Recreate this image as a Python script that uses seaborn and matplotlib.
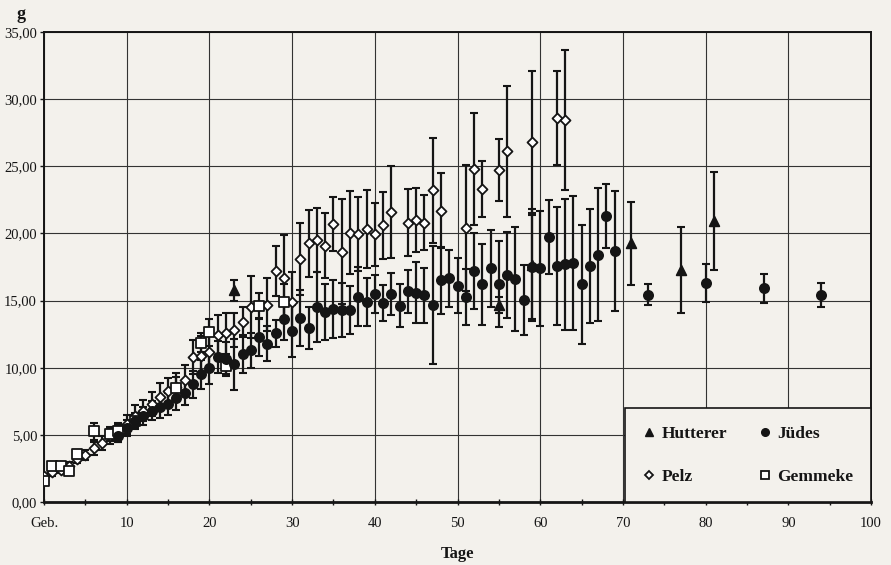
import numpy as np
import pandas as pd
import matplotlib
matplotlib.use("Agg")
import matplotlib.pyplot as plt
from matplotlib.lines import Line2D
from matplotlib.ticker import FixedLocator, FuncFormatter, MultipleLocator
import seaborn as sns

# ---------------- data ----------------
pelz_days = [0,1,2,3,4,5,6,7,8,9,10,11,12,13,14,15,16,17,18,19,20,21,22,23,24,25,
             27,28,29,30,31,32,33,34,35,36,37,38,39,40,41,42,44,45,46,47,48,
             51,52,53,55,56,59,62,63]
pelz_mean = [1.9,2.2,2.4,2.7,3.2,3.5,4.0,4.4,4.9,5.1,
             5.8,6.4,6.8,7.3,7.85,8.25,8.6,9.1,10.8,10.85,
             11.15,12.4,12.55,12.8,13.4,14.5,
             14.7,17.2,16.7,14.9,18.1,19.25,19.5,19.1,20.7,18.65,20.05,19.95,20.3,19.95,20.6,21.6,
             20.8,21.0,20.8,23.2,21.7,
             20.4,24.8,23.3,24.7,26.1,26.8,28.6,28.45]
pelz_sd = [0.2,0.25,0.25,0.3,0.3,0.4,0.5,0.5,0.6,0.6,
           0.7,0.8,0.8,0.9,1.0,1.0,1.0,1.1,1.3,1.5,
           1.3,1.5,1.5,1.25,1.1,2.3,
           2.0,1.85,3.2,2.2,2.7,2.5,2.4,2.4,2.0,3.9,3.1,2.75,2.9,2.35,2.5,3.4,
           2.5,2.4,2.05,3.9,2.8,
           4.7,4.15,2.1,2.3,4.9,5.3,3.5,5.2]

judes_days = list(range(9, 70)) + [73, 80, 87, 94]
judes_mean = [4.95,5.5,6.0,6.4,6.8,7.05,7.3,7.75,8.1,8.75,
              9.5,9.95,10.8,10.65,10.25,11.0,11.3,12.3,11.8,12.55,
              13.6,12.75,13.7,12.95,14.5,14.15,14.35,14.3,14.3,15.3,
              14.9,15.5,14.8,15.5,14.6,15.7,15.6,15.4,14.7,16.5,
              16.65,16.1,15.25,17.2,16.2,17.4,16.2,16.9,16.6,15.05,
              17.5,17.4,19.75,17.6,17.7,17.8,16.2,17.55,18.4,21.3,
              18.7,
              15.45,16.3,15.9,15.4]
judes_sd = [0.5,0.6,0.6,0.7,0.7,0.8,0.8,0.9,0.9,1.0,
            1.1,1.2,1.2,1.3,1.9,1.4,1.3,1.4,1.3,1.0,
            1.5,1.95,2.1,1.55,2.6,2.05,2.15,2.0,1.8,2.2,
            1.8,1.4,1.35,1.55,1.6,1.6,2.3,2.05,4.4,2.5,
            2.1,2.05,2.1,2.8,3.0,2.85,3.2,3.2,3.9,2.6,
            3.85,4.3,2.75,4.4,4.9,5.0,4.4,4.25,4.95,2.4,
            4.45,
            0.75,1.4,1.05,0.9]

gemmeke_days = [0,1,2,3,4,6,8,9,11,16,19,20,22,26,29]
gemmeke_mean = [1.55,2.65,2.65,2.3,3.6,5.25,5.05,5.25,6.0,8.5,11.85,12.65,10.15,14.6,14.9]
gemmeke_sd = [0.3,0.2,0.2,0.25,0.3,0.6,0.5,0.6,0.5,0.8,0.7,1.0,0.6,1.0,1.3]

hutterer_days = [23,55,59,71,77,81]
hutterer_mean = [15.75,14.65,17.65,19.25,17.3,20.95]
hutterer_sd = [0.75,0.6,4.2,3.1,3.2,3.65]

x_ticks = [0,10,20,30,40,50,60,70,80,90,100]
x_ticklabels = ["Geb.","10","20","30","40","50","60","70","80","90","100"]
y_ticks = [0,5,10,15,20,25,30,35]

# ---------------- style ----------------
BG = "#f3f1ec"
INK = "#151515"
sns.set_theme(style="white")
plt.rcParams["font.family"] = ["Liberation Serif", "DejaVu Serif"]

fig = plt.figure(figsize=(8.91, 5.65), dpi=100, facecolor=BG)
ax = fig.add_axes([0.0494, 0.1115, 0.9282, 0.8319], facecolor=BG)

series = [
    ("Pelz", pelz_days, pelz_mean, pelz_sd, "D", "white", 26),
    ("Gemmeke", gemmeke_days, gemmeke_mean, gemmeke_sd, "s", "white", 48),
    ("Jüdes", judes_days, judes_mean, judes_sd, "o", INK, 44),
    ("Hutterer", hutterer_days, hutterer_mean, hutterer_sd, "^", INK, 48),
]

for name, d, m, s, mk, fc, size in series:
    ax.errorbar(d, m, yerr=s, fmt="none", ecolor=INK, elinewidth=1.6,
                capsize=3.0, capthick=1.5, zorder=2)

for name, d, m, s, mk, fc, size in series:
    df = pd.DataFrame({"Tage": d, "g": m})
    sns.scatterplot(data=df, x="Tage", y="g", ax=ax, marker=mk, s=size,
                    color=fc, edgecolor=INK, linewidth=1.3, zorder=3, legend=False)

ax.set_xlim(0, 100)
ax.set_ylim(0, 35)
ax.xaxis.set_major_locator(FixedLocator(x_ticks))
ax.set_xticklabels(x_ticklabels)
ax.xaxis.set_minor_locator(MultipleLocator(5))
ax.yaxis.set_major_locator(FixedLocator(y_ticks))
ax.yaxis.set_major_formatter(FuncFormatter(lambda v, p: f"{v:.2f}".replace(".", ",")))

ax.grid(True, which="major", color="#333333", linewidth=0.8)
ax.set_axisbelow(True)
for sp in ax.spines.values():
    sp.set_visible(True)
    sp.set_color(INK)
    sp.set_linewidth(1.4)
ax.spines["bottom"].set_linewidth(2.0)

ax.tick_params(axis="x", which="major", direction="inout", length=5, width=1,
               color=INK, labelsize=10.5, pad=8, bottom=True)
ax.tick_params(axis="x", which="minor", direction="inout", length=4, width=1,
               color=INK, bottom=True)
ax.tick_params(axis="y", which="major", direction="out", length=3, width=1,
               color=INK, labelsize=10.5, pad=2, left=True)
for lbl in ax.get_xticklabels() + ax.get_yticklabels():
    lbl.set_color(INK)

ax.set_xlabel("Tage", fontsize=12, fontweight="bold", color=INK, labelpad=12)
ax.set_ylabel("")
fig.text(0.018, 0.975, "g", fontsize=13, fontweight="bold", color=INK, va="center")

handles = [
    Line2D([], [], linestyle="none", marker="^", markersize=5.5, color=INK, markeredgecolor=INK),
    Line2D([], [], linestyle="none", marker="D", markersize=4.0, markerfacecolor="white",
           markeredgecolor=INK, markeredgewidth=1.3),
    Line2D([], [], linestyle="none", marker="o", markersize=5.5, color=INK, markeredgecolor=INK),
    Line2D([], [], linestyle="none", marker="s", markersize=5.5, markerfacecolor="white",
           markeredgecolor=INK, markeredgewidth=1.3),
]
labels = ["Hutterer", "Pelz", "Jüdes", "Gemmeke"]
leg = ax.legend(handles, labels, ncol=2, loc="lower left",
                bbox_to_anchor=(0.7025, 0.0, 0.2975, 0.196), mode="expand",
                borderaxespad=0, frameon=True, fancybox=False,
                prop={"weight": "bold", "size": 12.5, "family": ["Liberation Serif"]},
                handlelength=0.8, handletextpad=0.3, labelspacing=1.55,
                borderpad=1.0, columnspacing=1.0)
leg.get_frame().set_facecolor(BG)
leg.get_frame().set_edgecolor(INK)
leg.get_frame().set_linewidth(1.2)
leg.get_frame().set_alpha(1)
for t in leg.get_texts():
    t.set_color(INK)

fig.savefig("out.png", dpi=100, facecolor=BG)
